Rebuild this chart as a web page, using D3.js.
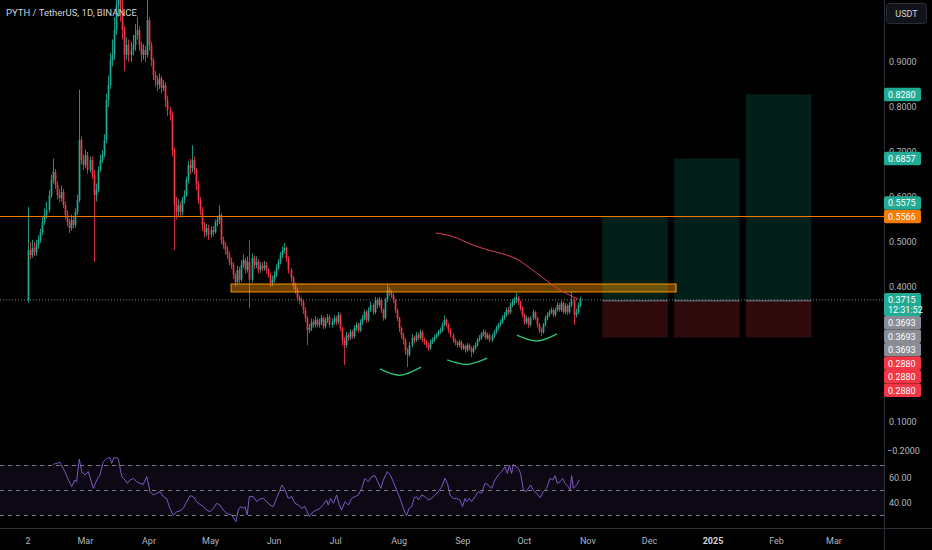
<!DOCTYPE html>
<html>
<head>
<meta charset="utf-8">
<script src="https://cdn.jsdelivr.net/npm/d3@7"></script>
<style>
  html, body { margin: 0; padding: 0; background: #000; }
  svg { display: block; font-family: Roboto, "Noto Sans", sans-serif; }
</style>
</head>
<body>
<svg id="chart" width="932" height="550"></svg>
<script>
// ---------- data ----------
var title = "PYTH / TetherUS, 1D, BINANCE";
var startDay = "2024-02-02";
var firstOpen = 0.371;

var closes = [
  .482,.471,.487,.478,.493,.504,.522,.544,.56,.571,
  .604,.638,.656,.627,.604,.598,.611,.582,.56,.544,
  .531,.549,.538,.567,.593,.727,.682,.671,.693,.66,
  .682,.649,.604,.616,.66,.682,.693,.727,.816,.849,
  .904,.916,.971,1.027,1.06,1.016,.971,.916,.938,.916,
  .927,.938,.96,.971,.938,.916,.927,.916,.993,.938,
  .904,.871,.86,.849,.864,.842,.849,.816,.793,.782,
  .704,.582,.567,.582,.567,.593,.604,.638,.671,.664,
  .682,.66,.627,.593,.571,.538,.522,.531,.516,.527,
  .522,.544,.549,.56,.504,.493,.482,.471,.456,.449,
  .427,.411,.438,.416,.449,.46,.438,.456,.416,.464,
  .449,.456,.438,.447,.442,.449,.438,.427,.409,.416,
  .427,.442,.456,.471,.482,.487,.464,.438,.42,.404,
  .393,.376,.371,.367,.349,.331,.304,.309,.322,.316,
  .327,.316,.322,.331,.313,.327,.333,.316,.322,.331,
  .322,.338,.309,.282,.271,.293,.287,.30,.291,.309,
  .316,.304,.322,.331,.344,.327,.349,.36,.344,.371,
  .36,.371,.349,.331,.371,.393,.389,.382,.371,.349,
  .331,.309,.293,.282,.26,.249,.271,.287,.282,.293,
  .287,.30,.282,.278,.271,.264,.278,.282,.289,.293,
  .30,.304,.316,.327,.316,.304,.293,.282,.276,.271,
  .278,.264,.269,.26,.271,.264,.256,.264,.271,.282,
  .287,.296,.30,.287,.293,.282,.291,.30,.309,.316,
  .322,.331,.338,.349,.344,.36,.367,.371,.376,.367,
  .353,.338,.322,.331,.316,.331,.344,.331,.316,.304,
  .30,.316,.331,.338,.344,.349,.338,.349,.36,.349,
  .364,.344,.358,.344,.36,.371,.338,.344,.36,.3715
];
var highs = [
  .578,.50,.505,.50,.505,.515,.53,.555,.575,.59,
  .615,.65,.685,.662,.635,.618,.625,.618,.59,.57,
  .552,.56,.558,.575,.605,.838,.735,.695,.705,.70,
  .69,.69,.66,.63,.668,.695,.705,.74,.83,.87,
  .92,.95,1.0,1.07,1.15,1.09,1.04,.98,.955,.95,
  .945,.96,.985,1.0,.98,.945,.94,.935,1.05,1.0,
  .945,.91,.88,.87,.875,.87,.86,.855,.825,.80,
  .79,.71,.60,.595,.59,.60,.615,.645,.68,.685,
  .715,.69,.665,.635,.60,.578,.545,.54,.538,.535,
  .535,.55,.558,.582,.565,.512,.50,.49,.478,.465,
  .455,.432,.448,.445,.46,.472,.465,.468,.504,.475,
  .47,.468,.462,.455,.455,.458,.455,.442,.432,.425,
  .435,.45,.462,.478,.49,.498,.49,.468,.442,.425,
  .41,.398,.382,.378,.372,.355,.335,.318,.33,.328,
  .335,.332,.33,.338,.335,.332,.34,.338,.33,.337,
  .336,.345,.342,.312,.288,.30,.298,.306,.305,.315,
  .322,.32,.328,.338,.35,.348,.355,.368,.364,.378,
  .376,.378,.375,.352,.376,.404,.40,.394,.386,.374,
  .352,.334,.312,.298,.286,.265,.278,.295,.292,.30,
  .298,.305,.303,.287,.282,.276,.283,.288,.294,.298,
  .305,.31,.322,.336,.33,.32,.308,.297,.286,.28,
  .283,.282,.274,.272,.276,.274,.268,.27,.276,.287,
  .293,.30,.306,.304,.298,.297,.296,.305,.314,.32,
  .328,.337,.344,.355,.356,.366,.374,.378,.387,.38,
  .37,.357,.342,.337,.334,.336,.35,.347,.334,.32,
  .31,.32,.336,.344,.35,.355,.353,.355,.366,.364,
  .37,.368,.364,.362,.366,.391,.375,.352,.366,.378
];
var lows = [
  .365,.462,.465,.468,.47,.485,.498,.515,.538,.552,
  .565,.598,.63,.618,.595,.588,.59,.575,.55,.535,
  .52,.525,.53,.532,.56,.588,.672,.66,.665,.652,
  .655,.64,.456,.59,.61,.655,.675,.688,.72,.80,
  .84,.89,.905,.96,1.0,.99,.95,.88,.905,.90,
  .90,.915,.925,.95,.925,.90,.905,.90,.91,.925,
  .89,.86,.845,.835,.84,.83,.835,.80,.78,.77,
  .69,.482,.55,.555,.555,.56,.585,.60,.63,.65,
  .655,.65,.615,.585,.56,.525,.51,.512,.505,.51,
  .512,.518,.535,.54,.495,.485,.472,.462,.448,.44,
  .418,.40,.405,.408,.412,.442,.43,.432,.353,.41,
  .44,.442,.43,.432,.435,.436,.43,.42,.40,.402,
  .41,.422,.438,.45,.465,.475,.455,.43,.412,.395,
  .385,.368,.362,.358,.34,.322,.271,.298,.302,.31,
  .31,.31,.31,.316,.306,.308,.32,.31,.31,.316,
  .315,.318,.302,.27,.227,.265,.28,.282,.285,.286,
  .302,.298,.30,.316,.326,.32,.322,.344,.338,.34,
  .352,.355,.342,.325,.328,.366,.38,.375,.364,.342,
  .324,.30,.285,.272,.25,.222,.245,.266,.275,.278,
  .282,.283,.277,.272,.265,.258,.26,.273,.278,.285,
  .29,.296,.30,.312,.31,.298,.288,.276,.27,.265,
  .266,.26,.26,.254,.256,.258,.244,.252,.26,.267,
  .278,.283,.29,.283,.283,.278,.278,.287,.296,.305,
  .312,.318,.327,.334,.338,.34,.355,.36,.364,.36,
  .347,.332,.316,.318,.31,.312,.327,.326,.31,.298,
  .291,.296,.312,.326,.334,.34,.333,.334,.345,.344,
  .345,.34,.34,.338,.34,.355,.316,.332,.34,.355
];

// RSI(14) line: day offset from startDay, value
var rsiDay = [12.3,15.6,18,19.7,21.3,22.9,23.7,25,26.2,27.8,29.4,31.9,33.5,35.1,36.7,38.4,40,40.8,41.9,44,
  45.7,47.3,48.4,49.7,51.4,53,54.6,56.2,57.9,59.5,61.1,62.7,64.4,66,67.6,69.2,70.9,72.5,74.1,75.7,
  77.4,79,80.6,82.2,83.9,85.5,87.1,88.7,90.4,92,93.6,95.2,96.9,99.3,101.4,102.5,103.7,105,105.8,106.9,
  107.9,109.9,111.5,113.1,114.7,116.4,118,119.6,121.2,122.5,123.8,125.3,126.9,128.5,130.2,131.8,133.4,135,137.2,139.1,
  142.4,144,145.6,146.4,147.6,148.9,150.5,151.8,152.9,154.6,156.2,157.8,159.4,161.1,162.7,164.3,165.9,167.6,169.2,170.5,
  172,173.3,175.2,176.8,178.1,179.8,181.4,183,184.6,185.8,187.1,188.2,189.5,190.3,192,193.6,195.2,196.8,198.4,200.1,
  201.7,203.3,204.5,205.8,207.4,209,210.6,211.9,213.1,213.9,215.2,216.3,218,219.6,221.2,222.8,224.5,226.1,227.7,229.3,
  231,232.6,233.7,234.7,235.8,236.6,237.9,239.1,240.2,241.5,242.8,244,245.1,246.4,248,249.6,251.3,252.9,254.5,255.8,
  257,258.1,259.4,260.7,261.8,263.5,264.3,265.1,265.9,267.5,268.8];
var rsiVal = [70.5,72.1,64.7,58,52.7,58,56.7,74.8,64.7,62,64.7,51.3,58,62,72.7,75.3,75.9,71.3,75.9,75.3,
  60.7,58,55.3,58,59.3,56.7,55.3,54.5,60.7,48.7,46,47.3,48.7,44.7,43.3,35.3,29.5,32.7,33.2,35.3,
  40.7,45.5,44.7,40.7,38.5,36.7,34,32.7,35.3,39.3,38,34,31.3,30,24.7,34,36.7,35.3,36.7,30,
  44.7,44.7,40.7,42.8,43.3,40.7,38,36.7,43.3,48.7,54,50,43.3,44.7,39.3,38,35.3,36.7,28.7,32.7,
  35.3,38.5,42,38,43.3,39.3,46,38,34,40.7,38,43.3,44.7,46,51.3,59.3,56.7,60.7,61.5,56.7,
  51.3,58,64.7,61.5,56.7,50,43.3,35.3,29.5,35.3,36.7,43.3,44.7,42,46,44.7,42,43.3,46,48.7,
  52.7,59.3,55.3,46,43.3,43.3,42,36.7,43.3,40.7,43.3,40.7,44.7,48.7,47.3,55.3,54,51.3,58,62,
  64.7,68.7,63.3,70,63.3,70.5,68.7,67.3,63.3,50,48.7,51.3,54,50,47.3,43.9,48.7,51.3,59.3,58,
  61.5,55.3,56.7,59.3,55.3,52.7,50,61.5,51.3,54,58];

var priceTicks = [0.9, 0.8, 0.7, 0.6, 0.5, 0.4, 0.1];
var paneEdgeLabel = "\u22120.2000";
var rsiTicks = [60, 40];
var rsiLevels = [70, 50, 30];
var timeTicks = ["2024-02-02","2024-03-01","2024-04-01","2024-05-01","2024-06-01","2024-07-01","2024-08-01",
  "2024-09-01","2024-10-01","2024-11-01","2024-12-01","2025-01-01","2025-02-01","2025-03-01"];
var timeLabels = ["2","Mar","Apr","May","Jun","Jul","Aug","Sep","Oct","Nov","Dec","2025","Feb","Mar"];

// drawings
var hLinePrice = 0.5566;
var lastPrice = 0.3715, countdown = "12:31:52";
var zoneStart = "2024-05-11", zoneEnd = "2024-12-14", zoneTop = 0.4067, zoneBottom = 0.389;
var posStart = ["2024-11-08","2024-12-13","2025-01-17"];
var posEnd = ["2024-12-10","2025-01-14","2025-02-18"];
var posTarget = [0.5575, 0.6857, 0.8280];
var posEntry = 0.3693, posStop = 0.2880;
var curveDay = [198.8,206.6,217,225.4,233.4,238.3,244.8,251.2,257.8,262.7,268.3];
var curvePrice = [.520,.513,.493,.481,.471,.462,.442,.420,.398,.385,.373];
var arcDay = [[171.6,181.4,191.6],[204.4,214.1,223.9],[238.4,248.2,257.9]];
var arcPrice = [[.218,.204,.222],[.238,.228,.242],[.293,.280,.296]];

// ---------- layout ----------
var W = 932, H = 550;
var axisX = 884, paneBottom = 455, timeTop = 528;
var upColor = "#22ab94", downColor = "#f23645";
var textColor = "#b2b5be";

var parse = d3.timeParse("%Y-%m-%d");
var t0 = parse(startDay);
function dayDate(d) { return new Date(t0.getTime() + d * 864e5); }

var x = d3.scaleTime().domain([t0, parse("2025-03-01")]).range([28, 834]);
var y = d3.scaleLinear().domain([0, 0.9]).range([467, 62]);
var yr = d3.scaleLinear().domain([30, 70]).range([515, 465]);

var svg = d3.select("#chart");
svg.append("rect").attr("width", W).attr("height", H).attr("fill", "#000");

var defs = svg.append("defs");
defs.append("clipPath").attr("id", "mainClip")
  .append("rect").attr("x", 0).attr("y", 0).attr("width", axisX).attr("height", paneBottom);
defs.append("clipPath").attr("id", "rsiClip")
  .append("rect").attr("x", 0).attr("y", paneBottom).attr("width", axisX).attr("height", timeTop - paneBottom);

var main = svg.append("g").attr("clip-path", "url(#mainClip)");

// position boxes
posStart.forEach(function (s, i) {
  var x0 = x(parse(s)), x1 = x(parse(posEnd[i]));
  main.append("rect").attr("x", x0).attr("y", y(posTarget[i]))
    .attr("width", x1 - x0).attr("height", y(posEntry) - y(posTarget[i]))
    .attr("fill", "rgba(8,153,129,0.2)");
  main.append("rect").attr("x", x0).attr("y", y(posEntry))
    .attr("width", x1 - x0).attr("height", y(posStop) - y(posEntry))
    .attr("fill", "rgba(242,54,69,0.2)");
  main.append("line").attr("x1", x0).attr("x2", x1)
    .attr("y1", y(posEntry)).attr("y2", y(posEntry))
    .attr("stroke", "#787b86").attr("stroke-width", 1);
});

// last price dotted line
main.append("line").attr("x1", 0).attr("x2", axisX)
  .attr("y1", y(lastPrice)).attr("y2", y(lastPrice))
  .attr("stroke", "#787b86").attr("stroke-width", 1).attr("stroke-dasharray", "1,2");

// candles
var candles = closes.map(function (c, i) {
  return { date: dayDate(i), o: i === 0 ? firstOpen : closes[i - 1], h: highs[i], l: lows[i], c: c };
});
var cg = main.append("g");
cg.selectAll("line").data(candles).enter().append("line")
  .attr("x1", function (d) { return Math.round(x(d.date)) + 0.5; })
  .attr("x2", function (d) { return Math.round(x(d.date)) + 0.5; })
  .attr("y1", function (d) { return y(d.h); })
  .attr("y2", function (d) { return y(d.l); })
  .attr("stroke", function (d) { return d.c >= d.o ? upColor : downColor; })
  .attr("stroke-opacity", 0.85)
  .attr("stroke-width", 1);
cg.selectAll("rect").data(candles).enter().append("rect")
  .attr("x", function (d) { return Math.round(x(d.date)) - 0.35; })
  .attr("width", 1.7)
  .attr("y", function (d) { return y(Math.max(d.o, d.c)); })
  .attr("height", function (d) { return Math.max(1, Math.abs(y(d.o) - y(d.c))); })
  .attr("fill", function (d) { return d.c >= d.o ? upColor : downColor; });

// support zone
main.append("rect")
  .attr("x", x(parse(zoneStart))).attr("y", y(zoneTop))
  .attr("width", x(parse(zoneEnd)) - x(parse(zoneStart)))
  .attr("height", y(zoneBottom) - y(zoneTop))
  .attr("fill", "rgba(255,152,0,0.42)").attr("stroke", "#ff9800").attr("stroke-width", 1);

// horizontal line
main.append("line").attr("x1", 0).attr("x2", axisX)
  .attr("y1", y(hLinePrice)).attr("y2", y(hLinePrice))
  .attr("stroke", "#f57c00").attr("stroke-width", 1);

// red curve
var curvePts = curveDay.map(function (d, i) { return [x(dayDate(d)), y(curvePrice[i])]; });
main.append("path").attr("d", d3.line().curve(d3.curveMonotoneX)(curvePts))
  .attr("fill", "none").attr("stroke", "#e0405a").attr("stroke-width", 1);

// green arcs
arcDay.forEach(function (days, k) {
  var pts = days.map(function (d, i) { return [x(dayDate(d)), y(arcPrice[k][i])]; });
  main.append("path").attr("d", d3.line().curve(d3.curveNatural)(pts))
    .attr("fill", "none").attr("stroke", "#2fbf71").attr("stroke-width", 1.5);
});

// title
svg.append("text").attr("x", 6).attr("y", 16)
  .attr("fill", "#d1d4dc").attr("font-size", 9.5).text(title);

// ---------- RSI pane ----------
var rsiG = svg.append("g").attr("clip-path", "url(#rsiClip)");
rsiG.append("rect").attr("x", 0).attr("width", axisX)
  .attr("y", yr(70)).attr("height", yr(30) - yr(70))
  .attr("fill", "rgba(126,87,194,0.1)");
svg.append("g").selectAll("line").data(rsiLevels).enter().append("line")
  .attr("x1", 0).attr("x2", axisX)
  .attr("y1", function (d) { return yr(d) + 0.5; })
  .attr("y2", function (d) { return yr(d) + 0.5; })
  .attr("stroke", "#787b86").attr("stroke-width", 1).attr("stroke-dasharray", "4,4");
var rsiPts = rsiDay.map(function (d, i) { return [x(dayDate(d)), yr(rsiVal[i])]; });
rsiG.append("path").attr("d", d3.line()(rsiPts))
  .attr("fill", "none").attr("stroke", "#7e57c2").attr("stroke-width", 1);

// ---------- frame ----------
svg.append("line").attr("x1", axisX + 0.5).attr("x2", axisX + 0.5).attr("y1", 0).attr("y2", H)
  .attr("stroke", "#2a2e39");
svg.append("line").attr("x1", 0).attr("x2", W).attr("y1", timeTop + 0.5).attr("y2", timeTop + 0.5)
  .attr("stroke", "#2a2e39");

// ---------- price axis ----------
var ax = svg.append("g").attr("font-size", 9).attr("fill", textColor);
ax.selectAll("text.p").data(priceTicks).enter().append("text")
  .attr("x", 889).attr("y", function (d) { return y(d); }).attr("dy", "0.35em")
  .text(function (d) { return d3.format(".4f")(d); });
ax.append("text").attr("x", 887).attr("y", paneBottom - 4).attr("dy", "0.35em").text(paneEdgeLabel);
ax.selectAll("text.r").data(rsiTicks).enter().append("text")
  .attr("x", 889).attr("y", function (d) { return yr(d); }).attr("dy", "0.35em")
  .text(function (d) { return d3.format(".2f")(d); });

// currency box
svg.append("rect").attr("x", 886.5).attr("y", 3.5).attr("width", 40).attr("height", 20).attr("rx", 3)
  .attr("fill", "#111318").attr("stroke", "#2a2e39");
svg.append("text").attr("x", 906.5).attr("y", 13.5).attr("dy", "0.35em").attr("text-anchor", "middle")
  .attr("font-size", 9).attr("fill", "#d1d4dc").text("USDT");

// price labels with simple collision handling
var labels = [];
labels.push({ v: lastPrice, col: upColor, pin: true, sub: countdown });
labels.push({ v: hLinePrice, col: "#f57c00", pin: true });
posTarget.slice().sort(d3.descending).forEach(function (v) { labels.push({ v: v, col: upColor }); });
posTarget.forEach(function () { labels.push({ v: posEntry, col: "#8a8d96" }); });
posTarget.forEach(function () { labels.push({ v: posStop, col: downColor }); });

var boxH = 13.5, placed = [];
labels.forEach(function (L) {
  var yy = y(L.v);
  var h = L.sub ? 23 : boxH;
  var top = yy - 6.75, dir = 0;
  if (!L.pin) {
    for (var k = 0; k < 20; k++) {
      var hit = placed.find(function (p) { return top < p.bottom - 0.01 && top + h > p.top + 0.01; });
      if (!hit) break;
      if (!dir) dir = yy >= hit.anchor ? 1 : -1;
      top = dir > 0 ? hit.bottom : hit.top - h;
    }
  }
  L.top = top; L.bottom = top + h; L.anchor = yy;
  placed.push(L);
});
var lg = svg.append("g").attr("font-size", 9).attr("fill", "#fff");
placed.forEach(function (L) {
  lg.append("rect").attr("x", 884).attr("y", L.top).attr("width", 37).attr("height", L.bottom - L.top)
    .attr("rx", 2).attr("fill", L.col);
  lg.append("text").attr("x", 888).attr("y", L.top + 6.9).attr("dy", "0.35em").text(d3.format(".4f")(L.v));
  if (L.sub) lg.append("text").attr("x", 888).attr("y", L.top + 16.3).attr("dy", "0.35em").text(L.sub);
});

// ---------- time axis ----------
var tg = svg.append("g").attr("font-size", 9);
timeTicks.forEach(function (t, i) {
  tg.append("text").attr("x", x(parse(t))).attr("y", 541).attr("dy", "0.35em")
    .attr("text-anchor", "middle")
    .attr("fill", timeLabels[i] === "2025" ? "#d1d4dc" : textColor)
    .attr("font-weight", timeLabels[i] === "2025" ? "bold" : "normal")
    .text(timeLabels[i]);
});
</script>
</body>
</html>
